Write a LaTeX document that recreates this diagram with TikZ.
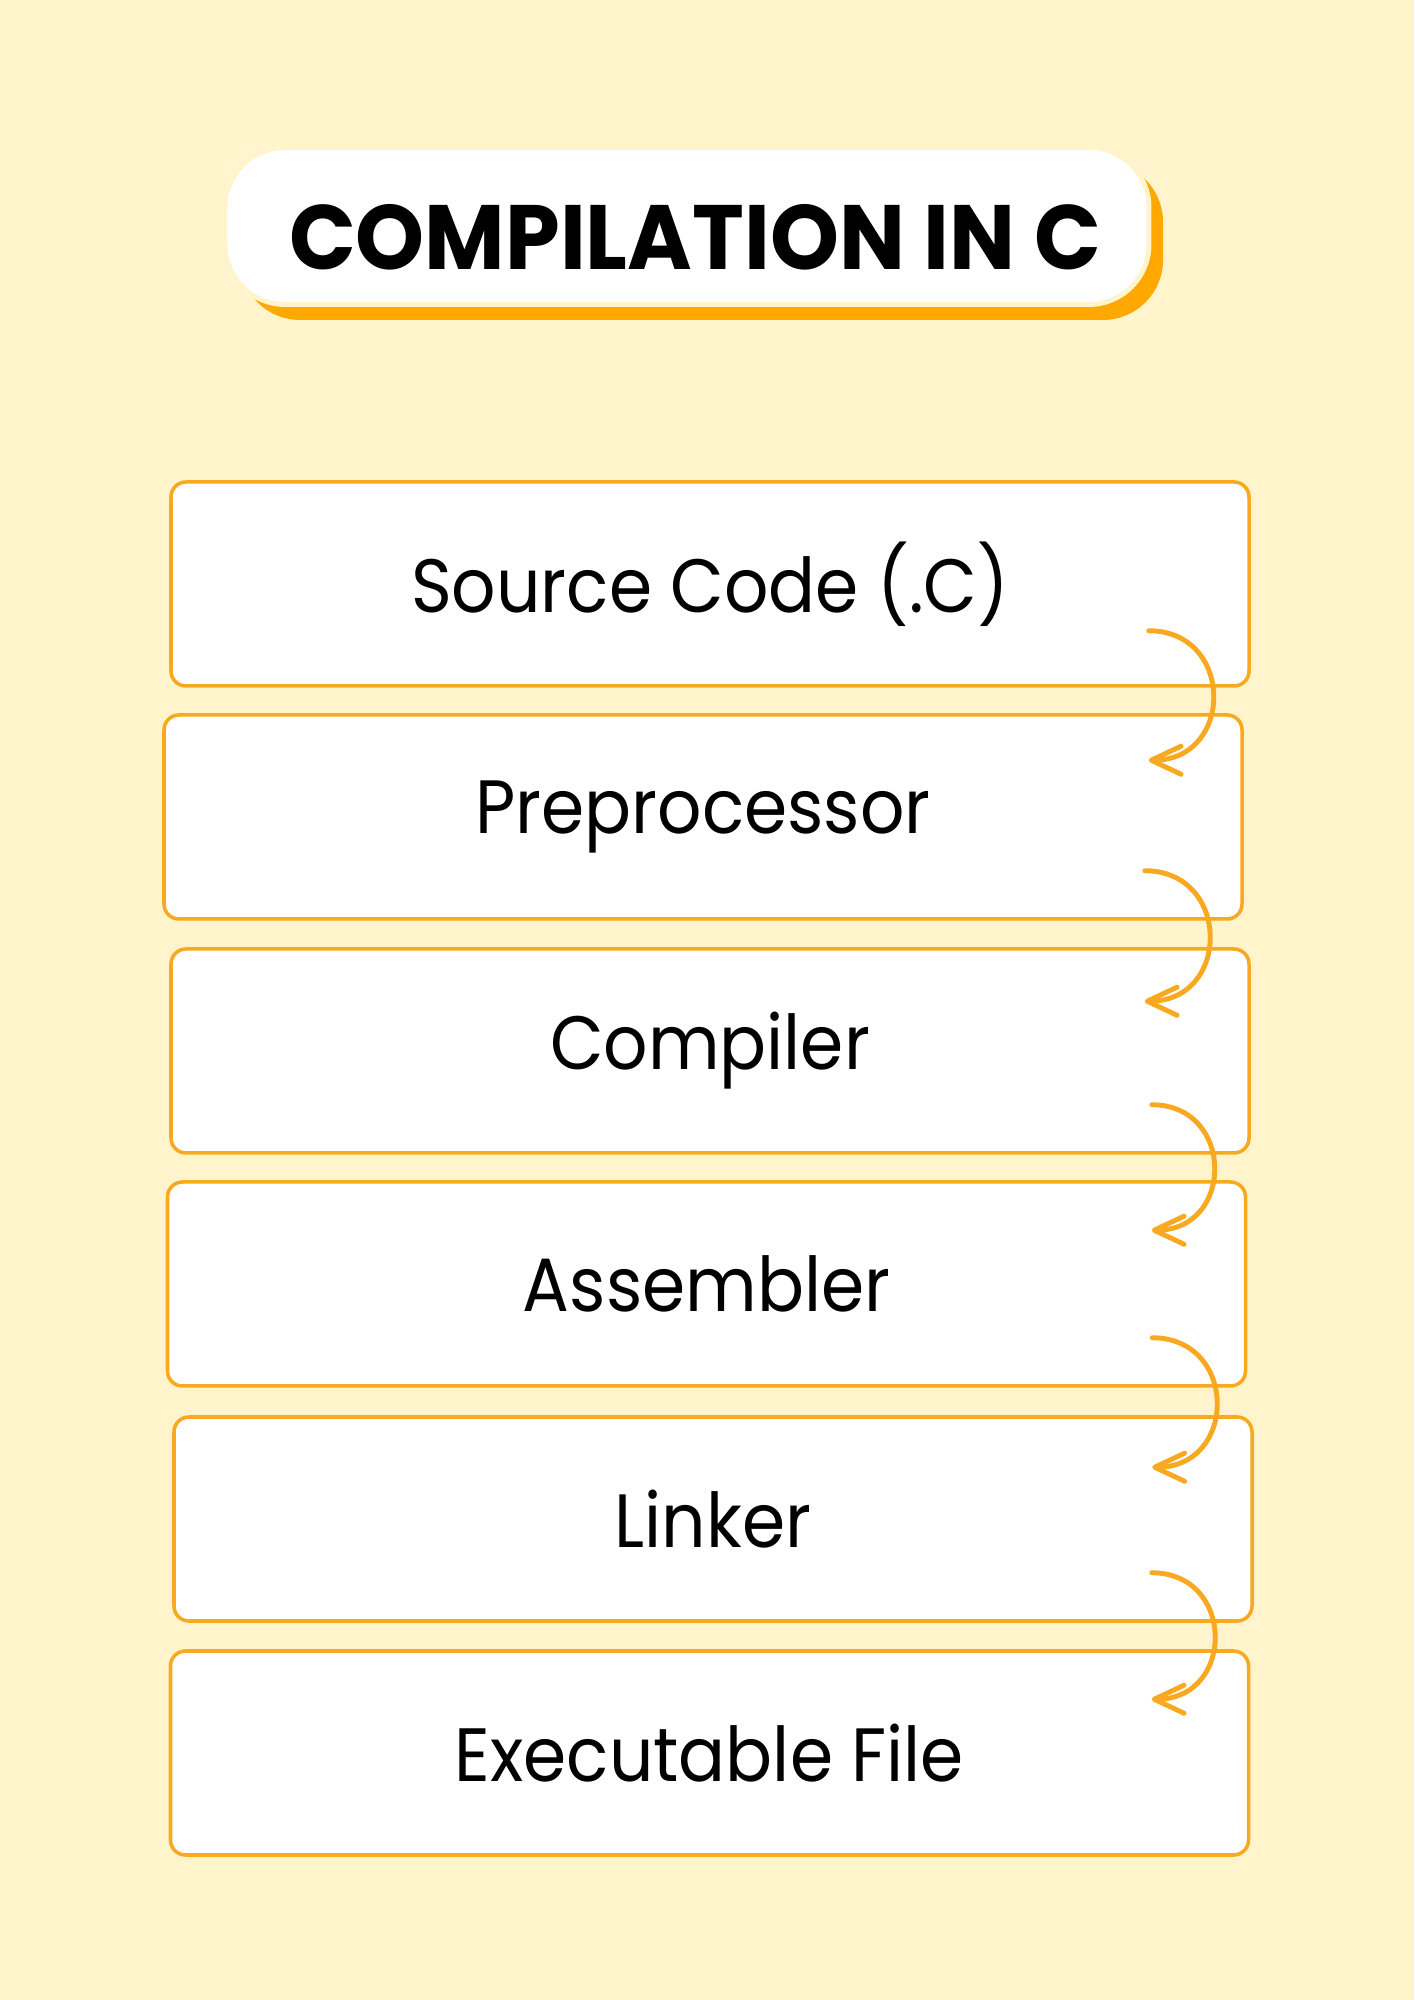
\documentclass[tikz,border=0pt]{standalone}
\usepackage{fontspec}
\setmainfont{Poppins}
\newfontfamily\stagefont[FakeStretch=0.92]{Poppins}
\newfontfamily\headfont[FakeStretch=0.96]{Poppins}
\usetikzlibrary{arrows.meta}
\definecolor{cream}{HTML}{FFF4CC}
\definecolor{amber}{HTML}{F8A91F}
\definecolor{deepamber}{HTML}{FFA800}
\tikzset{
	stage/.style={draw=amber, line width=1pt, fill=white, rounded corners=0.15cm,
		minimum width=10.78cm, minimum height=2.04cm, inner sep=0pt,
		font=\stagefont\fontsize{21.5}{26}\selectfont},
	flow/.style={draw=amber, line width=1.4pt, line cap=round,
		-{Straight Barb[length=8.5pt,width=8pt,round]}},
}
\begin{document}
\begin{tikzpicture}
			%%%%% START %%%%%
			
			\fill[cream] (0, 0) rectangle (14.14, 20);
			\useasboundingbox (0, 0) rectangle (14.14, 20);
			
			% title
			\draw[fill=deepamber, draw=none, rounded corners=0.6cm] (2.40, 16.80) rectangle (11.63, 18.38);
			\node[draw=cream, line width=1.4pt, fill=white, rounded corners=0.6cm,
				minimum width=9.24cm, minimum height=1.57cm, inner sep=0pt] (title) at (6.87, 17.74) {};
			\node[font=\headfont\bfseries\fontsize{26}{31}\selectfont, inner sep=0pt] (titletext) at (6.95, 17.63) {COMPILATION IN C};
			
			% stages
			\node[stage] (src) at (7.10, 14.16) {Source Code (.C)};
			\node[stage] (pre) at (7.03, 11.83) {Preprocessor};
			\node[stage] (comp) at (7.10, 9.49) {Compiler};
			\node[stage] (asm) at (7.065, 7.16) {Assembler};
			\node[stage] (link) at (7.13, 4.81) {Linker};
			\node[stage] (exe) at (7.095, 2.47) {Executable File};
			
			% arrows
			\coordinate (s1) at ([xshift=-1.02cm, yshift=0.57cm]src.south east);
			\coordinate (s2) at ([xshift=-0.99cm, yshift=0.50cm]pre.south east);
			\coordinate (s3) at ([xshift=-0.99cm, yshift=0.50cm]comp.south east);
			\coordinate (s4) at ([xshift=-0.95cm, yshift=0.50cm]asm.south east);
			\coordinate (s5) at ([xshift=-1.02cm, yshift=0.50cm]link.south east);
			
			\draw[flow] (s1) to[out=0, in=0, looseness=1.7] ([yshift=-0.47cm]pre.north -| s1);
			\draw[flow] (s2) to[out=0, in=0, looseness=1.7] ([yshift=-0.54cm]comp.north -| s2);
			\draw[flow] (s3) to[out=0, in=0, looseness=1.7] ([yshift=-0.50cm]asm.north -| s3);
			\draw[flow] (s4) to[out=0, in=0, looseness=1.7] ([yshift=-0.52cm]link.north -| s4);
			\draw[flow] (s5) to[out=0, in=0, looseness=1.7] ([yshift=-0.50cm]exe.north -| s5);
			
			%%%%% END %%%%%
		\end{tikzpicture}
\end{document}
